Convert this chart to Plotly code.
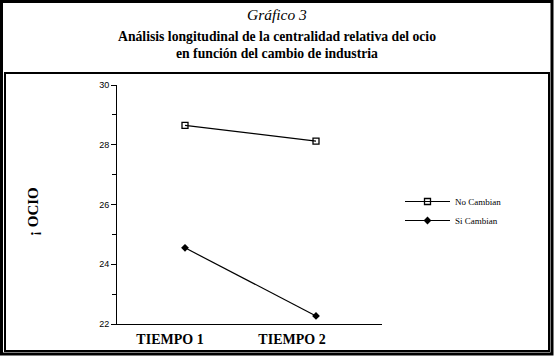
import plotly.graph_objects as go

# ---- data ----
tiempos = ["TIEMPO 1", "TIEMPO 2"]
x_pos = [1, 2]
no_cambian = [28.65, 28.12]
si_cambian = [24.55, 22.27]
y_ticks = [22, 24, 26, 28, 30]

W, H = 554, 356
L, R, T, B = 117, 382, 85, 324  # plot area in pixels

def px(xp):
    return (xp - L) / (R - L)

def py(yp):
    return (B - yp) / (B - T)

serif = "Liberation Serif"
sans = "Liberation Sans"

fig = go.Figure()
fig.add_trace(go.Scatter(
    x=x_pos, y=no_cambian, mode="lines+markers", name="No Cambian",
    line=dict(color="black", width=1.2),
    marker=dict(symbol="square-open", size=6, color="black", line=dict(width=1.3)),
))
fig.add_trace(go.Scatter(
    x=x_pos, y=si_cambian, mode="lines+markers", name="Si Cambian",
    line=dict(color="black", width=1.2),
    marker=dict(symbol="diamond", size=6, color="black"),
))

unit = (316 - 185)
x0 = 1 - (185 - L) / unit
x1 = 1 + (R - 185) / unit

fig.update_layout(
    width=W, height=H,
    margin=dict(l=L, r=W - R, t=T, b=H - B, pad=0),
    paper_bgcolor="white", plot_bgcolor="white",
    showlegend=True,
    legend=dict(
        x=px(400), y=py(187), xanchor="left", yanchor="top",
        font=dict(family=serif, size=9, color="black"),
        bgcolor="rgba(0,0,0,0)", itemwidth=45, tracegroupgap=0,
    ),
    xaxis=dict(
        range=[x0, x1], showgrid=False, zeroline=False, automargin=False,
        showline=True, linecolor="black", linewidth=1,
        tickvals=[1 - 15 / unit, 2 - 24 / unit],
        ticktext=["<b>" + t + "</b>" for t in tiempos],
        ticks="", tickfont=dict(family=serif, size=14, color="black"),
        ticklabelstandoff=2,
    ),
    yaxis=dict(
        range=[22, 30], showgrid=False, zeroline=False, automargin=False,
        showline=True, linecolor="black", linewidth=1,
        tickvals=y_ticks, ticks="outside", ticklen=5, tickcolor="black",
        tickfont=dict(family=sans, size=9, color="black"),
        minor=dict(dtick=1, ticks="outside", ticklen=4, tickcolor="black", showgrid=False),
    ),
)

ann = [
    ("<i>Gráfico 3</i>", 14, 15.5),
    ("<b>Análisis longitudinal de la centralidad relativa del ocio</b>", 37, 13.7),
    ("<b>en función del cambio de industria</b>", 53, 13.7),
]
annotations = []
for text, yy, size in ann:
    annotations.append(dict(
        text=text, xref="paper", yref="paper",
        x=px(W / 2), y=py(yy), xanchor="center", yanchor="middle",
        showarrow=False, font=dict(color="black", family=serif, size=size),
    ))
annotations.append(dict(
    text="<b>¡ OCIO</b>", xref="paper", yref="paper", x=px(33), y=py(212),
    xanchor="center", yanchor="middle", textangle=-90, showarrow=False,
    font=dict(family=serif, size=15, color="black"),
))
fig.update_layout(annotations=annotations)

shapes = [
    dict(type="rect", xref="paper", yref="paper", x0=px(1.5), x1=px(552), y0=py(1.5), y1=py(354),
         line=dict(color="black", width=3)),
    dict(type="rect", xref="paper", yref="paper", x0=px(5), x1=px(549), y0=py(73), y1=py(351),
         line=dict(color="black", width=2)),
]
fig.update_layout(shapes=shapes)

fig.write_html("out.html", config={"displayModeBar": False},
               post_script="document.body.style.margin='0';")
